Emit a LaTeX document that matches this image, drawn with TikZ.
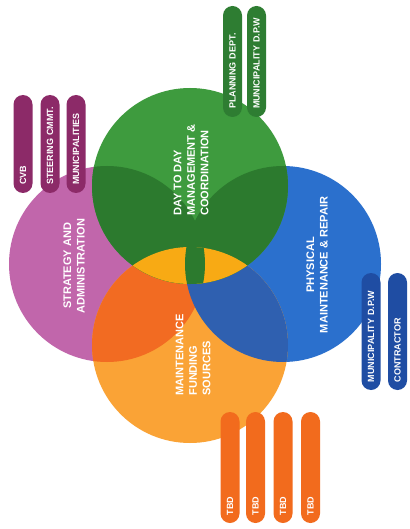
\documentclass[tikz,border=0pt]{standalone}
\usepackage{fontspec}
\setmainfont{Liberation Sans}
\usepackage{xcolor}
\definecolor{grnbase}{HTML}{3E9B3E}
\definecolor{grndark}{HTML}{2C7A2E}
\definecolor{grnpill}{HTML}{2E7D32}
\definecolor{purbase}{HTML}{C166AB}
\definecolor{purpill}{HTML}{8C2A68}
\definecolor{blubase}{HTML}{2B70CD}
\definecolor{bluorg}{HTML}{2F60B0}
\definecolor{blupill}{HTML}{1F4DA3}
\definecolor{orgbase}{HTML}{FAA336}
\definecolor{orgpur}{HTML}{F26B22}
\definecolor{grnorg}{HTML}{F8AA14}
\definecolor{orgpill}{HTML}{F26B1D}
\tikzset{%
	pill/.style     = {rounded corners=9.5pt, minimum height=19pt, inner xsep=8pt, inner ysep=0pt, rotate=90, text=white, font=\bfseries\fontsize{9}{10}\selectfont, align=left},
	hublabel/.style = {rotate=90, text=white, inner sep=0pt, font=\bfseries\fontsize{11}{13.5}\selectfont},
	hub/.style      = {radius=98pt},
}
\begin{document}
\begin{tikzpicture}[x=1pt,y=-1pt]
		\useasboundingbox[fill=white] (0,0) rectangle (409,529);
		\coordinate (grn) at (190,186);  % day to day
		\coordinate (blu) at (283,264);  % physical
		\coordinate (org) at (190,345);  % funding
		\coordinate (pur) at (107,264);  % strategy
		\fill[purbase] (pur) circle[hub];
		\fill[blubase] (blu) circle[hub];
		\fill[orgbase] (org) circle[hub];
		\begin{scope}
			\clip (org) circle[hub];
			\fill[orgpur] (pur) circle[hub];
			\fill[bluorg] (blu) circle[hub];
		\end{scope}
		\fill[grnbase] (grn) circle[hub];
		\begin{scope}
			\clip (grn) circle[hub];
			\fill[grndark] (pur) circle[hub];
			\fill[grndark] (blu) circle[hub];
			\clip (org) circle[hub];
			\fill[grnorg] (org) circle[hub];
			\clip (pur) circle[hub];
			\fill[grndark] (blu) circle[hub];
		\end{scope}
		\node[hublabel, align=left] (daytoday) at (191,170) {DAY TO DAY\\MANAGEMENT \&\\COORDINATION};
		\node[hublabel, align=center] (physical) at (317,265) {PHYSICAL\\MAINTENANCE \& REPAIR};
		\node[hublabel, align=left] (funding) at (193,355) {MAINTENANCE\\FUNDING\\SOURCES};
		\node[hublabel, align=center] (strategy) at (74,266) {STRATEGY AND\\ADMINISTRATION};
		% pills
		\node[pill, fill=grnpill, text width=95pt] (planning) at (232.5,61.5) {PLANNING DEPT.};
		\node[pill, fill=grnpill, text width=95pt] (dpwtop) at (256.5,61.5) {MUNICIPALITY D.P.W};
		\node[pill, fill=purpill, text width=82pt] (cvb) at (23,144) {CVB};
		\node[pill, fill=purpill, text width=82pt] (steering) at (50,144) {STEERING CMMT.};
		\node[pill, fill=purpill, text width=82pt] (munis) at (76,144) {MUNICIPALITIES};
		\node[pill, fill=blupill, text width=101pt] (dpwright) at (371,331.5) {MUNICIPALITY D.P.W};
		\node[pill, fill=blupill, text width=101pt] (contractor) at (397.5,331.5) {CONTRACTOR};
		\foreach \x [count=\i] in {230,255.5,283,310.5}
			\node[pill, fill=orgpill, text width=95pt] (tbd\i) at (\x,467.5) {TBD};
\end{tikzpicture}
\end{document}
